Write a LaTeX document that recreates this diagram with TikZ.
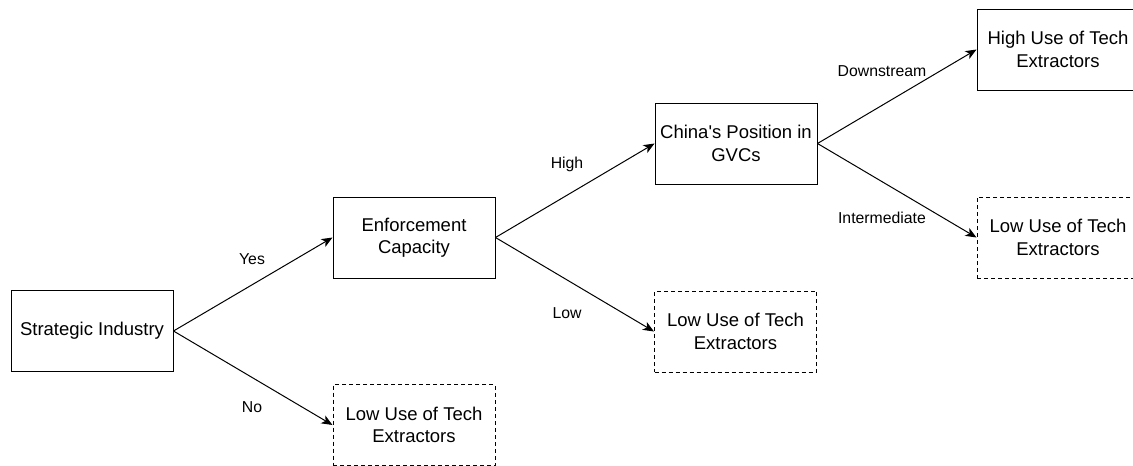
\documentclass[tikz,border=0pt]{standalone}
\usepackage{fontspec}
\setmainfont{Liberation Sans}
\usetikzlibrary{arrows.meta}
\begin{document}
\begin{tikzpicture}[x=1pt,y=-1pt,
  box/.style={draw, line width=1pt, minimum width=162pt, minimum height=81pt, inner sep=0pt, align=center, font=\fontsize{18.5}{22.3}\selectfont},
  dbox/.style={box, dash pattern=on 4pt off 3pt},
  lbl/.style={font=\fontsize{15.8}{18}\selectfont, inner sep=0pt},
  arr/.style={line width=1pt, -{Stealth[length=11pt,width=9pt,inset=3pt]}}]
\path[use as bounding box] (0,0) rectangle (1133,466);
\clip (0,0) rectangle (1133,466);
\node[box] (si) at (92,331) {Strategic Industry};
\node[box] (ec) at (414,237.5) {Enforcement\\Capacity};
\node[dbox] (l1) at (414,425) {Low Use of Tech\\Extractors};
\node[box] (cp) at (736,143.5) {China\textquotesingle s Position in\\GVCs};
\node[dbox] (l2) at (735.5,331.5) {Low Use of Tech\\Extractors};
\node[box] (hu) at (1058,49.5) {High Use of Tech\\Extractors};
\node[dbox] (l3) at (1058,237.5) {Low Use of Tech\\Extractors};
\draw[arr] (si.east) -- (ec.west);
\draw[arr] (si.east) -- (l1.west);
\draw[arr] (ec.east) -- (cp.west);
\draw[arr] (ec.east) -- (l2.west);
\draw[arr] (cp.east) -- (hu.west);
\draw[arr] (cp.east) -- (l3.west);
\node[lbl] (yes) at (252,259) {Yes};
\node[lbl] (no) at (252,407) {No};
\node[lbl] (high) at (567,164) {High};
\node[lbl] (low) at (567,313) {Low};
\node[lbl] (down) at (882,71) {Downstream};
\node[lbl] (inter) at (882,218) {Intermediate};
\end{tikzpicture}
\end{document}
